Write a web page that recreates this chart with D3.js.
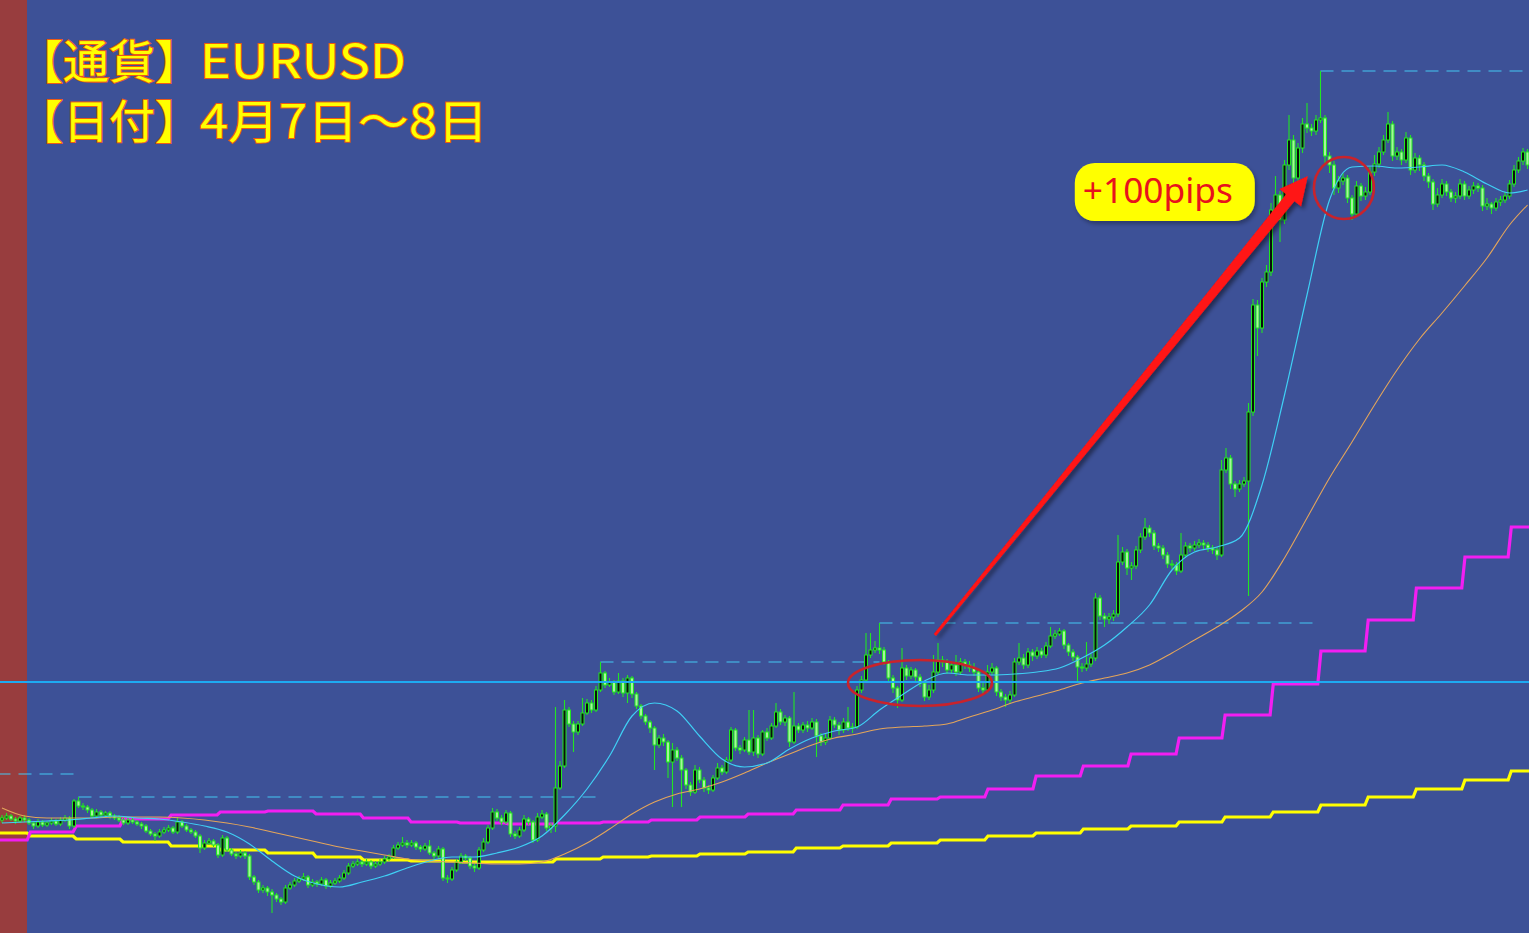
<!DOCTYPE html>
<html>
<head>
<meta charset="utf-8">
<script src="https://cdn.jsdelivr.net/npm/d3@7"></script>
<style>
  html, body { margin: 0; padding: 0; background: #3d5197; overflow: hidden; }
  svg { display: block; }
</style>
</head>
<body>
<svg id="chart" width="1529" height="933"></svg>
<script>
// EURUSD M5, price in points above chart floor (1 pt = 1 screen unit)
var open = [
  113,115,117,114,112,115,113,110,107,111,108,110,112,109,113,115,107,132,127,126,
  123,117,121,118,120,117,115,113,110,113,111,109,107,102,99,97,101,103,105,101,
  111,107,103,101,97,85,90,92,88,78,95,83,79,77,80,77,56,51,43,45,
  41,38,34,31,45,48,52,54,56,48,51,49,53,47,50,52,55,60,67,69,
  71,69,71,67,69,71,74,76,85,88,90,88,90,86,84,87,80,77,84,55,
  54,63,71,77,75,67,65,83,91,105,121,115,111,120,99,97,103,114,111,93,
  116,119,105,107,145,167,223,209,201,209,220,230,223,243,260,248,251,241,252,240,
  255,239,227,217,211,205,188,195,191,171,183,175,163,148,141,163,153,145,143,155,
  165,161,173,203,185,183,193,181,195,179,201,195,207,221,211,215,191,207,203,208,
  205,211,197,191,195,213,208,203,211,205,206,243,253,278,283,285,283,271,255,245,
  233,265,257,263,256,250,236,243,261,273,271,263,268,261,271,268,265,261,245,243,
  261,265,241,236,233,238,271,275,268,281,277,282,278,287,297,299,302,288,281,276,
  266,265,269,275,335,317,314,316,319,371,381,365,367,383,396,405,400,387,385,378,
  369,368,362,378,387,385,388,390,388,385,383,378,463,475,449,444,449,452,521,628,
  605,651,661,723,738,713,768,793,755,785,809,805,802,813,815,777,768,745,752,755,
  735,719,747,737,741,761,769,781,793,809,777,781,773,795,763,775,768,757,751,729,
  738,749,741,735,737,749,737,743,747,745,727,729,725,731,733,737,749,763,772,781
];
var high = [
  118,120,119,116,117,118,115,112,114,113,112,115,114,116,118,117,134,136,130,128,
  125,124,123,122,122,119,118,115,116,115,113,111,109,104,101,104,106,108,107,116,
  113,109,105,103,99,93,95,94,90,98,97,85,81,83,82,79,58,53,48,47,
  44,40,36,48,51,55,57,60,58,54,53,56,55,53,55,58,63,70,72,74,
  73,74,73,72,74,77,79,88,91,96,93,93,92,88,90,93,82,87,86,58,
  66,74,80,79,77,69,86,95,108,125,124,118,123,122,102,106,118,116,113,120,
  123,121,110,226,172,233,226,212,212,235,234,233,247,271,262,255,253,260,255,258,
  257,241,229,219,213,207,198,199,193,190,186,178,165,151,168,166,156,148,158,170,
  168,176,206,205,188,196,223,223,198,203,205,210,230,224,218,217,241,210,211,212,
  215,214,200,199,217,216,211,215,226,210,247,257,300,300,292,310,286,273,258,247,
  285,268,266,265,259,252,248,278,290,277,274,272,278,275,274,272,270,264,251,268,
  270,267,244,239,242,275,290,279,285,284,286,285,291,306,303,305,304,290,284,278,
  270,291,279,340,338,320,320,323,398,386,384,371,387,400,415,408,403,390,388,381,
  373,371,400,391,390,392,394,393,391,388,386,473,485,478,452,453,456,530,634,633,
  655,668,730,757,742,773,818,798,790,815,830,809,818,862,818,781,772,757,760,758,
  738,752,750,746,766,778,786,798,821,812,786,784,801,798,780,778,771,760,754,745,
  754,752,744,741,754,752,747,751,750,748,735,731,735,737,741,753,768,776,785,784
];
var low = [
  110,113,112,109,110,111,108,104,105,106,106,108,107,107,111,104,105,125,123,120,
  115,115,116,116,114,113,111,108,108,109,107,104,100,97,92,95,99,101,99,99,
  105,101,99,95,80,83,88,86,75,76,81,77,74,75,74,53,48,40,40,37,
  20,31,28,29,43,46,50,52,45,46,46,47,44,45,48,50,53,58,65,67,
  66,67,64,65,67,69,72,74,83,86,85,86,83,81,82,78,74,75,52,50,
  52,61,69,72,64,61,63,81,89,103,112,108,109,96,94,95,101,108,90,91,
  114,102,100,101,143,165,206,181,198,207,218,220,221,241,245,246,238,239,236,230,
  235,224,214,208,200,163,185,187,155,126,172,126,144,137,139,150,141,139,141,153,
  158,159,171,182,179,181,178,177,175,177,192,193,205,208,207,186,189,200,200,201,
  203,176,187,188,193,205,198,200,202,200,204,240,251,275,280,279,268,251,240,225,
  231,253,254,252,246,232,233,240,258,266,259,260,257,258,264,261,257,241,238,240,
  258,237,232,226,230,236,268,264,265,272,274,275,275,285,294,297,284,277,272,251,
  261,262,266,272,313,306,309,312,316,368,358,353,364,380,393,396,383,381,374,365,
  364,358,360,375,381,382,385,384,381,379,373,376,460,444,436,441,446,337,517,577,
  600,646,657,719,691,709,763,746,750,780,800,797,798,810,770,760,738,740,748,730,
  713,716,732,733,738,757,765,778,790,772,773,768,770,758,760,762,752,745,723,726,
  735,737,731,730,734,733,734,739,741,722,723,719,722,727,730,734,746,760,768,764
];
var close = [
  115,117,114,112,115,113,110,107,111,108,110,112,109,113,115,107,132,127,126,123,
  117,121,118,120,117,115,113,110,113,111,109,107,102,99,97,101,103,105,101,111,
  107,103,101,97,85,90,92,88,78,95,83,79,77,80,77,56,51,43,45,41,
  38,34,31,45,48,52,54,56,48,51,49,53,47,50,52,55,60,67,69,71,
  69,71,67,69,71,74,76,85,88,90,88,90,86,84,87,80,77,84,55,54,
  63,71,77,75,67,65,83,91,105,121,115,111,120,99,97,103,114,111,93,116,
  119,105,107,145,167,223,209,201,209,220,230,223,243,260,248,251,241,252,240,255,
  239,227,217,211,205,188,195,191,171,183,175,163,148,141,163,153,145,143,155,165,
  161,173,203,185,183,193,181,195,179,201,195,207,221,211,215,191,207,203,208,205,
  211,197,191,195,213,208,203,211,205,206,243,253,278,283,285,283,271,255,245,233,
  265,257,263,256,250,236,243,261,273,271,263,268,261,271,268,265,261,245,243,261,
  265,241,236,233,238,271,275,268,281,277,282,278,287,297,299,302,288,281,276,266,
  265,269,275,335,317,314,316,319,371,381,365,367,383,396,405,400,387,385,378,369,
  368,362,378,387,385,388,390,388,385,383,378,463,475,449,444,449,452,521,628,605,
  651,661,723,738,713,768,793,755,785,809,805,802,813,815,777,768,745,752,755,735,
  719,747,737,741,761,769,781,793,809,777,781,773,795,763,775,768,757,751,729,738,
  749,741,735,737,749,737,743,747,745,727,729,725,731,733,737,749,763,772,781,768
];

// moving averages, read every 5th bar (last one at bar 339)
var fastMA = [110,111,112,113,115,117,115,114,111,107,101,89,72,57,49,46,51,57,65,72,
  76,76,80,86,97,118,144,177,217,230,222,197,174,166,170,184,195,202,206,223,
  238,252,260,258,258,259,261,265,275,288,306,328,363,381,386,395,448,538,638,733,
  766,767,765,766,768,761,749,740,743];
var slowMA = [125,117,115,115,115,116,116,116,115,113,110,106,101,96,91,86,82,78,74,72,
  71,70,69,69,71,79,90,104,119,131,139,144,151,160,170,179,188,195,199,204,
  206,207,209,216,223,231,237,243,250,255,260,268,280,293,306,321,341,375,415,455,
  491,528,563,594,620,647,675,708,728];

// hourly step indicators: hour boundaries (bar position) and levels per hour
var hourBars = [5.6,15.8,26.2,36.9,47.8,58.4,69.1,79.6,90.2,101.1,111.8,122.4,132.9,143.6,154.4,165.1,
  175.8,186.2,196.9,207.8,218.4,229.1,239.6,250.2,260.9,271.1,281.8,292.4,302.9,313.6,324.4,334.7];
var magentaLevel = [93,101,107,114,118,121,122,119,115,111,110,109,110,111,113,116,119,123,128,134,
  136,144,157,167,179,195,218,249,282,313,345,376,406];
var yellowLevel = [100,97,94,91,87,83,80,76,73,72,71,71,74,76,77,79,81,85,87,90,
  93,97,100,104,107,111,116,121,128,136,144,153,162];

// previous-high dashed lines: starting bar and level
var swingBar = [-1, 17, 133, 195, 293];
var swingLevel = [159, 136, 271, 310, 862];
var refLevel = 251; // solid horizontal line

// title texts
var titleLabels = ["【通貨】", "【日付】"];
var titleValues = ["EURUSD", "4月7日～8日"];

var svg = d3.select("#chart"),
    width = +svg.attr("width"),
    height = +svg.attr("height");

var x = d3.scaleLinear().domain([0, 339]).range([2, 1527.5]); //bar index -> px
var y = d3.scaleLinear().domain([0, 933]).range([height, 0]); //price points -> px

var defs = svg.append("defs");
var shadow = defs.append("filter").attr("id", "shadow")
    .attr("x", "-20%").attr("y", "-20%").attr("width", "140%").attr("height", "140%");
shadow.append("feDropShadow").attr("dx", 3).attr("dy", 3).attr("stdDeviation", 2)
    .attr("flood-color", "#000").attr("flood-opacity", 0.45);
var softShadow = defs.append("filter").attr("id", "softShadow")
    .attr("x", "-20%").attr("y", "-30%").attr("width", "140%").attr("height", "160%");
softShadow.append("feDropShadow").attr("dx", 2).attr("dy", 3).attr("stdDeviation", 2)
    .attr("flood-color", "#000").attr("flood-opacity", 0.3);

// background + left session band
svg.append("rect").attr("width", width).attr("height", height).attr("fill", "#3d5197");
svg.append("rect").attr("x", 0).attr("y", 0).attr("width", 27).attr("height", height).attr("fill", "#983d3e");

// dashed previous-high lines
svg.append("g").selectAll("line")
    .data(swingBar).enter().append("line")
    .attr("x1", function(d) { return x(d); })
    .attr("x2", function(d, k) { return k < swingBar.length - 1 ? x(swingBar[k + 1]) : width; })
    .attr("y1", function(d, k) { return y(swingLevel[k]); })
    .attr("y2", function(d, k) { return y(swingLevel[k]); })
    .attr("stroke", "#45c8f2").attr("stroke-width", 1)
    .attr("stroke-dasharray", "13,8");

// step lines (one flat run per hour, short slanted join)
function stepPoints(levels) {
  var pts = [];
  levels.forEach(function(v, k) {
    var start = k === 0 ? -1 : hourBars[k - 1] + 0.7;
    var end = k === levels.length - 1 ? 341 : hourBars[k];
    pts.push([start, v], [end, v]);
  });
  return pts;
}
var stepLine = d3.line()
    .x(function(d) { return x(d[0]); })
    .y(function(d) { return y(d[1]); });

svg.append("path").attr("d", stepLine(stepPoints(yellowLevel)))
    .attr("fill", "none").attr("stroke", "#ffff00").attr("stroke-width", 3.2);
svg.append("path").attr("d", stepLine(stepPoints(magentaLevel)))
    .attr("fill", "none").attr("stroke", "#f21ef2").attr("stroke-width", 3.2);

// candles
var bars = d3.range(close.length);
var candle = svg.append("g").selectAll("g")
    .data(bars).enter().append("g");
candle.append("line")
    .attr("x1", function(i) { return x(i); })
    .attr("x2", function(i) { return x(i); })
    .attr("y1", function(i) { return y(high[i]); })
    .attr("y2", function(i) { return y(low[i]); })
    .attr("stroke", "#22e522").attr("stroke-width", 1.1);
candle.append("rect")
    .attr("x", function(i) { return x(i) - 1.5; })
    .attr("width", 3)
    .attr("y", function(i) { return y(Math.max(open[i], close[i])); })
    .attr("height", function(i) { return Math.max(0.8, Math.abs(y(open[i]) - y(close[i]))); })
    .attr("fill", function(i) { return close[i] > open[i] ? "#0b0f0b" : "#a6f59c"; }) //up = dark
    .attr("stroke", "#22e522").attr("stroke-width", 1);

// moving averages
var maLine = d3.line()
    .x(function(d, k) { return x(Math.min(k * 5, 339)); })
    .y(function(d) { return y(d); })
    .curve(d3.curveMonotoneX);
svg.append("path").attr("d", maLine(slowMA))
    .attr("fill", "none").attr("stroke", "#e4a55a").attr("stroke-width", 1.1);
svg.append("path").attr("d", maLine(fastMA))
    .attr("fill", "none").attr("stroke", "#3fd0f5").attr("stroke-width", 1.2);

// solid reference line
svg.append("line")
    .attr("x1", 0).attr("x2", width)
    .attr("y1", y(refLevel)).attr("y2", y(refLevel))
    .attr("stroke", "#1eaaf2").attr("stroke-width", 2);

// annotations
svg.append("ellipse")
    .attr("cx", x(204)).attr("cy", y(250)).attr("rx", 72).attr("ry", 23)
    .attr("fill", "none").attr("stroke", "#c9232b").attr("stroke-width", 2.6);
svg.append("ellipse")
    .attr("cx", x(298.2)).attr("cy", y(745)).attr("rx", 30).attr("ry", 31)
    .attr("fill", "none").attr("stroke", "#c9232b").attr("stroke-width", 2.6);

var arrowFrom = [207.3, 298], arrowTo = [290.2, 757];
var p0 = [x(arrowFrom[0]), y(arrowFrom[1])],
    tip = [x(arrowTo[0]), y(arrowTo[1])];
var len = Math.hypot(tip[0] - p0[0], tip[1] - p0[1]),
    ux = (tip[0] - p0[0]) / len, uy = (tip[1] - p0[1]) / len,
    nx = -uy, ny = ux;
var headLen = 28, headHalf = 14, tailHalf = 1.4, neckHalf = 5.4;
var base = [tip[0] - ux * headLen, tip[1] - uy * headLen];
var arrowPts = [
  [p0[0] + nx * tailHalf, p0[1] + ny * tailHalf],
  [base[0] + nx * neckHalf, base[1] + ny * neckHalf],
  [base[0] + nx * headHalf, base[1] + ny * headHalf],
  tip,
  [base[0] - nx * headHalf, base[1] - ny * headHalf],
  [base[0] - nx * neckHalf, base[1] - ny * neckHalf],
  [p0[0] - nx * tailHalf, p0[1] - ny * tailHalf]
];
svg.append("path")
    .attr("d", "M" + arrowPts.map(function(p) { return p.join(","); }).join("L") + "Z")
    .attr("fill", "#ff1212").attr("filter", "url(#shadow)");

// +100pips callout
var callout = svg.append("g").attr("transform", "translate(" + x(258.4) + "," + y(741) + ")");
callout.append("rect")
    .attr("x", -90).attr("y", -29).attr("width", 180).attr("height", 58)
    .attr("rx", 20).attr("fill", "#ffff00").attr("filter", "url(#softShadow)");
callout.append("text")
    .attr("x", -7).attr("y", 11)
    .attr("text-anchor", "middle")
    .attr("font-family", "'Noto Sans', 'Noto Sans CJK JP', sans-serif")
    .attr("font-size", 34)
    .attr("textLength", 150).attr("lengthAdjust", "spacingAndGlyphs")
    .attr("fill", "#e8121c")
    .text("+100pips");

// title: bracket label + value stretched to the original width
var title = svg.append("g")
    .attr("font-family", "'Noto Sans CJK JP', sans-serif")
    .attr("font-size", 46)
    .attr("fill", "#ffff00")
    .attr("stroke", "#ec5a14")
    .attr("stroke-width", 2)
    .attr("paint-order", "stroke");
title.selectAll(".lbl")
    .data(titleLabels).enter().append("text")
    .attr("class", "lbl")
    .attr("x", 17)
    .attr("y", function(d, k) { return 78 + k * 60; })
    .text(function(d) { return d; });
title.selectAll(".val")
    .data(titleValues).enter().append("text")
    .attr("class", "val")
    .attr("x", 200)
    .attr("y", function(d, k) { return 78 + k * 60; })
    .attr("textLength", function(d, k) { return k === 0 ? 206 : 288; })
    .attr("lengthAdjust", "spacingAndGlyphs")
    .text(function(d) { return d; });
</script>
</body>
</html>
